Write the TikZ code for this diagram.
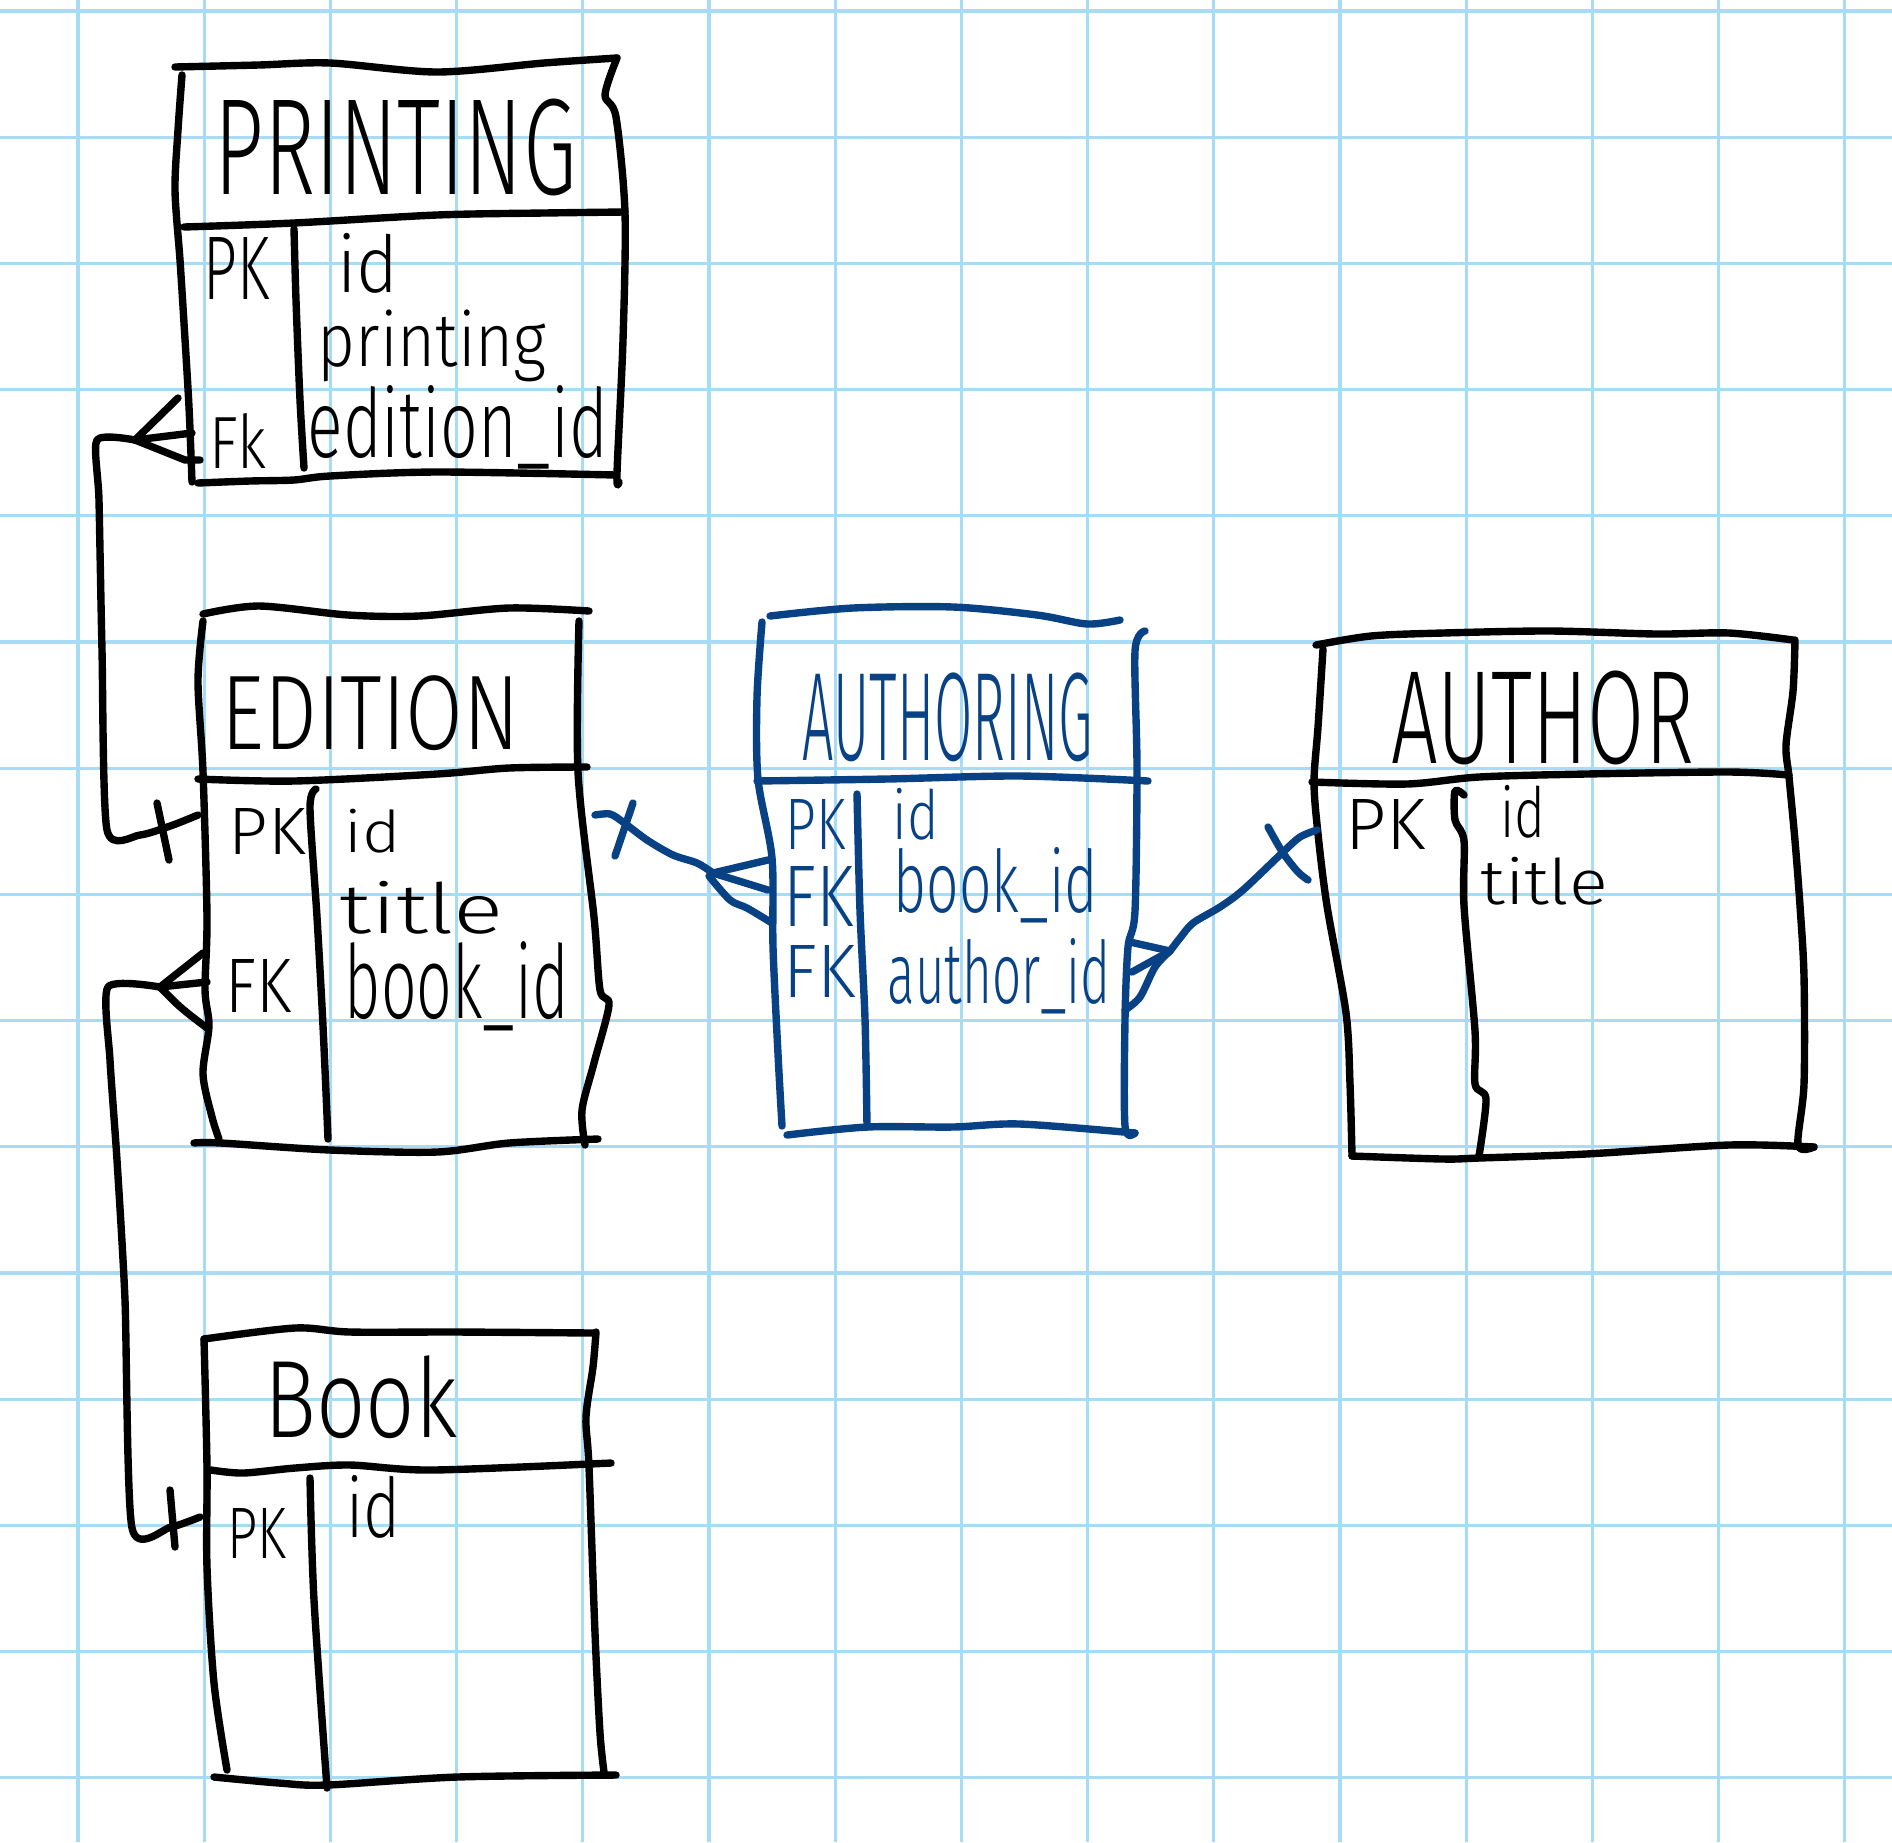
\documentclass[tikz,border=0pt]{standalone}
\usepackage{fontspec}
\usepackage{graphicx}
\IfFontExistsTF{Fira Sans Light}{\newfontfamily\handfont{Fira Sans Light}}{%
  \IfFontExistsTF{FiraSans-Light}{\newfontfamily\handfont{FiraSans-Light}}{\newfontfamily\handfont{Fira Sans}}}
\definecolor{gridblue}{RGB}{166,220,246}
\definecolor{blueink}{RGB}{8,66,132}
\newlength\pxu
\setlength\pxu{0.01cm}
\tikzset{
  pen/.style={draw=black, line width=2.1pt, line cap=round, line join=round},
  bpen/.style={pen, draw=blueink},
  gridline/.style={draw=gridblue, line width=0.9pt},
  hand/.style={anchor=north west, inner sep=0pt, font=\handfont},
}
\newcommand\hw[7][black]{\node[hand,text=#1] (#2) at (#3,#4) {\resizebox*{#5\pxu}{#6\pxu}{#7}};}
\newcommand\us{\smash{\_}}
\begin{document}
\begin{tikzpicture}[x=0.01cm,y=-0.01cm]
\fill[white] (0,0) rectangle (1892,1842);
\useasboundingbox (0,0) rectangle (1892,1842);
% grid paper
\foreach \k in {0,...,14} {
  \draw[gridline] ({78+126.2*\k},0) -- ({78+126.2*\k},1842);
  \draw[gridline] (0,{11+126.2*\k}) -- (1892,{11+126.2*\k});
}

% ---------------- PRINTING ----------------
\draw[pen] plot[smooth,tension=0.5] coordinates {(175,67) (259,65) (330,63) (437,72) (544,63) (617,58)};
\draw[pen] plot[smooth,tension=0.5] coordinates {(182,75) (178,130) (175,190) (180,260) (184,323) (189,407) (192,482)};
\draw[pen] plot[smooth,tension=0.5] coordinates {(617,58) (605,95) (616,117) (625,213) (623,340) (617,473) (619,482)};
\draw[pen] plot[smooth,tension=0.5] coordinates {(184,227) (294,223) (437,215) (544,213) (625,212)};
\draw[pen] plot[smooth,tension=0.5] coordinates {(198,483) (250,481) (294,480) (330,476) (437,472) (616,475)};
\draw[pen] plot[smooth,tension=0.5] coordinates {(294,229) (296,300) (300,400) (304,468)};
\hw{prT}{214}{98}{362}{97}{PRINTING}
\hw{prPK}{203}{237}{66}{62}{PK}
\hw{prId}{337}{233}{61}{60}{id}
\hw{prPr}{317}{309}{229}{72}{printing}
\hw{prFK}{209}{413}{57}{55}{Fk}
\hw{prEd}{307}{385}{300}{73}{edition\us id}

% ---------------- EDITION ----------------
\draw[pen] plot[smooth,tension=0.5] coordinates {(203,614) (259,606) (348,615) (419,616) (509,608) (589,611)};
\draw[pen] plot[smooth,tension=0.5] coordinates {(203,621) (198,681) (203,772) (207,917) (205,990) (209,1026) (203,1074) (212,1117) (219,1139)};
\draw[pen] plot[smooth,tension=0.5] coordinates {(579,621) (578,772) (594,917) (600,990) (609,1005) (594,1063) (582,1110) (585,1145)};
\draw[pen] plot[smooth,tension=0.5] coordinates {(198,779) (294,781) (437,774) (509,768) (587,767)};
\draw[pen] plot[smooth,tension=0.5] coordinates {(194,1143) (221,1143) (330,1150) (437,1152) (509,1143) (598,1139)};
\draw[pen] plot[smooth,tension=0.5] coordinates {(316,789) (310,808) (317,917) (323,1026) (328,1139)};
\hw{edT}{221}{675}{298}{75}{EDITION}
\hw{edPK}{228}{808}{77}{46}{PK}
\hw{edId}{344}{808}{56}{44}{id}
\hw{edTi}{339}{881}{164}{53}{title}
\hw{edFK}{225}{959}{66}{53}{FK}
\hw{edBk}{344}{941}{224}{78}{book\us id}

% ---------------- BOOK ----------------
\draw[pen] plot[smooth,tension=0.5] coordinates {(204,1339) (295,1328) (350,1332) (457,1332) (595,1333)};
\draw[pen] plot[smooth,tension=0.5] coordinates {(204,1339) (207,1467) (207,1567) (214,1683) (227,1770)};
\draw[pen] plot[smooth,tension=0.5] coordinates {(596,1332) (593,1367) (586,1417) (589,1467) (595,1633) (600,1733) (604,1772)};
\draw[pen] plot[smooth,tension=0.5] coordinates {(211,1470) (243,1473) (295,1468) (350,1465) (432,1470) (611,1463)};
\draw[pen] plot[smooth,tension=0.5] coordinates {(214,1777) (279,1783) (327,1785) (457,1777) (616,1775)};
\draw[pen] plot[smooth,tension=0.5] coordinates {(310,1478) (314,1600) (327,1788)};
\hw{bkT}{264}{1355}{193}{83}{Book}
\hw{bkPK}{227}{1508}{59}{50}{PK}
\hw{bkId}{346}{1475}{54}{63}{id}

% ---------------- AUTHORING ----------------
\draw[bpen] plot[smooth,tension=0.5] coordinates {(770,616) (853,608) (953,607) (1037,615) (1087,624) (1120,620)};
\draw[bpen] plot[smooth,tension=0.5] coordinates {(762,622) (757,697) (758,779) (772,858) (773,947) (778,1054) (782,1126)};
\draw[bpen] plot[smooth,tension=0.5] coordinates {(1145,631) (1135,651) (1137,769) (1135,911) (1128,947) (1125,1019) (1125,1126) (1135,1133)};
\draw[bpen] plot[smooth,tension=0.5] coordinates {(757,781) (887,779) (1020,776) (1148,781)};
\draw[bpen] plot[smooth,tension=0.5] coordinates {(787,1135) (867,1127) (953,1127) (1020,1124) (1135,1133)};
\draw[bpen] plot[smooth,tension=0.5] coordinates {(857,794) (860,911) (865,1019) (867,1127)};
\hw[blueink]{agT}{802}{672}{290}{89}{AUTHORING}
\hw[blueink]{agPK}{785}{799}{60}{50}{PK}
\hw[blueink]{agId}{892}{788}{46}{52}{id}
\hw[blueink]{agFK1}{783}{866}{70}{60}{FK}
\hw[blueink]{agBk}{893}{847}{204}{66}{book\us id}
\hw[blueink]{agFK2}{783}{945}{72}{52}{FK}
\hw[blueink]{agAu}{887}{938}{223}{66}{author\us id}

% ---------------- AUTHOR ----------------
\draw[pen] plot[smooth,tension=0.5] coordinates {(1316,645) (1371,636) (1443,633) (1550,631) (1657,634) (1729,633) (1793,640)};
\draw[pen] plot[smooth,tension=0.5] coordinates {(1323,649) (1318,727) (1314,782) (1318,834) (1327,906) (1346,1013) (1350,1084) (1352,1156)};
\draw[pen] plot[smooth,tension=0.5] coordinates {(1795,640) (1793,691) (1786,745) (1789,777) (1795,841) (1800,906) (1804,977) (1804,1084) (1798,1145) (1814,1147)};
\draw[pen] plot[smooth,tension=0.5] coordinates {(1312,782) (1407,784) (1479,777) (1586,774) (1729,772) (1789,775)};
\draw[pen] plot[smooth,tension=0.5] coordinates {(1352,1156) (1443,1159) (1479,1158) (1586,1154) (1729,1145) (1814,1147)};
\draw[pen] plot[smooth,tension=0.5] coordinates {(1464,795) (1455,791) (1455,820) (1464,841) (1464,906) (1475,1031) (1475,1084) (1486,1099) (1479,1156)};
\hw{auT}{1391}{670}{302}{94}{AUTHOR}
\hw{auPK}{1345}{799}{80}{50}{PK}
\hw{auId}{1500}{785}{45}{53}{id}
\hw{auTi}{1480}{856}{127}{48}{title}

% ---------------- connectors ----------------
% PRINTING (many) -- EDITION (one)
\coordinate (cPr) at (135,440);
\coordinate (cEdPK) at (198,815);
\draw[pen] (cPr) -- (178,398);
\draw[pen] (cPr) -- (192,433);
\draw[pen] (cPr) -- (185,460) -- (200,460);
\draw[pen] plot[smooth,tension=0.4] coordinates {(cPr) (97,440) (99,500) (102,650) (107,830) (140,835) (173,825) (cEdPK)};
\draw[pen] (157,803) -- (169,860);

% EDITION (many) -- BOOK (one)
\coordinate (cEd) at (160,987);
\coordinate (cBkPK) at (200,1517);
\draw[pen] (cEd) -- (203,953);
\draw[pen] (cEd) -- (207,982);
\draw[pen] plot[smooth,tension=0.5] coordinates {(cEd) (177,1004) (190,1015) (207,1028)};
\draw[pen] plot[smooth,tension=0.4] coordinates {(cEd) (108,987) (110,1060) (117,1160) (125,1300) (132,1528) (171,1527) (cBkPK)};
\draw[pen] (170,1490) -- (175,1547);

% EDITION (one) -- AUTHORING (many)
\coordinate (cAgL) at (713,873);
\coordinate (cEdR) at (595,815);
\draw[bpen] plot[smooth,tension=0.5] coordinates {(cEdR) (610,814) (623,822) (647,840) (673,855) (697,863) (cAgL)};
\draw[bpen] (cAgL) -- (768,860);
\draw[bpen] (cAgL) -- (768,890);
\draw[bpen] plot[smooth,tension=0.5] coordinates {(709,876) (730,900) (747,908) (772,923)};
\draw[bpen] (633,803) -- (615,856);

% AUTHORING (many) -- AUTHOR (one)
\coordinate (cAgR) at (1170,951);
\coordinate (cAuPK) at (1317,830);
\draw[bpen] plot[smooth,tension=0.5] coordinates {(cAgR) (1180,938) (1193,923) (1220,907) (1243,890) (1282,853) (1300,837) (cAuPK)};
\draw[bpen] (1130,942) -- (cAgR);
\draw[bpen] (1132,972) -- (cAgR);
\draw[bpen] plot[smooth,tension=0.5] coordinates {(cAgR) (1155,967) (1140,997) (1125,1010)};
\draw[bpen] plot[smooth,tension=0.5] coordinates {(1268,827) (1283,853) (1298,872) (1308,880)};
\end{tikzpicture}
\end{document}
